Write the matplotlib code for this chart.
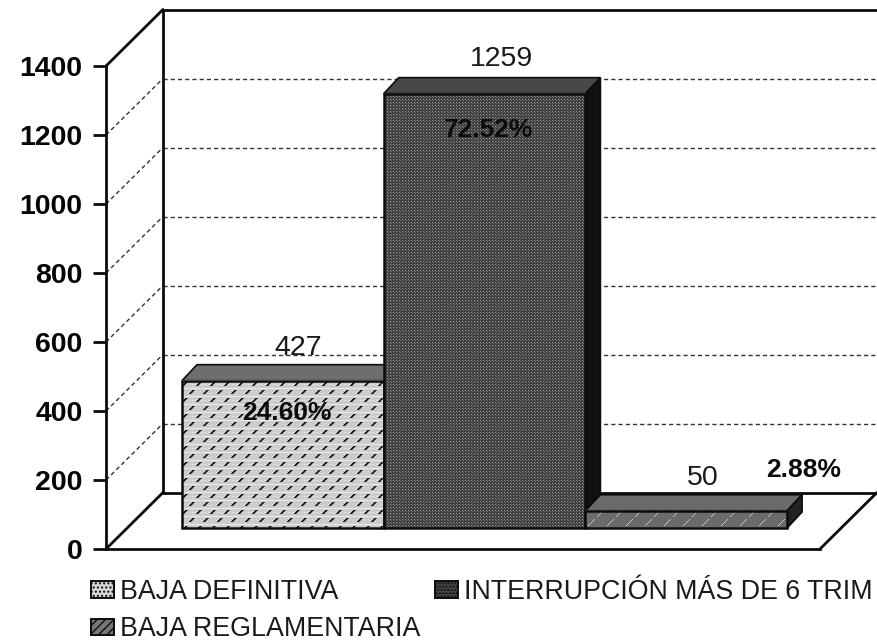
import numpy as np
import matplotlib
matplotlib.use("Agg")
import matplotlib.pyplot as plt
from matplotlib.patches import Patch, Polygon

categories = ["BAJA DEFINITIVA", "INTERRUPCIÓN MÁS DE 6 TRIM", "BAJA REGLAMENTARIA"]
values = [427, 1259, 50]
percents = ["24.60%", "72.52%", "2.88%"]
yticks = [0, 200, 400, 600, 800, 1000, 1200, 1400]

plt.rcParams['font.family'] = ['Liberation Sans', 'DejaVu Sans']
W, H = 878, 642
fig = plt.figure(figsize=(W / 100, H / 100), dpi=100, facecolor='white')
ax = fig.add_axes([106 / W, (H - 549) / H, 714 / W, 483 / H])

BAR_PX = 201.7
PX_V = 1400 / 483
def ux(px): return px / BAR_PX
def uv(px): return px * PX_V

x_left, x_right = ux(106 - 161), ux(820 - 161)
wall_dx, wall_dv = ux(57), uv(56.5)
floor_dx, floor_dv = ux(21), uv(21)
depth_dx, depth_dv = ux(15), uv(16)
LINE = '#0c0c0c'
LW = 2.0

# back wall, left wall, floor outlines
outline = dict(color=LINE, lw=LW, zorder=2, clip_on=False, solid_capstyle='round')
ax.plot([x_left + wall_dx] * 2, [wall_dv, 1400 + wall_dv], **outline)
ax.plot([x_left, x_left + wall_dx], [1400, 1400 + wall_dv], **outline)
ax.plot([x_left, x_left + wall_dx], [0, wall_dv], **outline)
ax.plot([x_left + wall_dx, x_right + wall_dx], [1400 + wall_dv] * 2, **outline)
ax.plot([x_left + wall_dx, x_right + wall_dx], [wall_dv] * 2, **outline)
ax.plot([x_right, x_right + wall_dx], [0, wall_dv], **outline)
for t in yticks[1:-1]:
    ax.plot([x_left, x_left + wall_dx], [t, t + wall_dv], color='#333333', lw=1.0,
            dashes=(3, 2.2), zorder=1, clip_on=False)
    ax.plot([x_left + wall_dx, x_right + wall_dx], [t + wall_dv] * 2, color='#333333', lw=1.0,
            dashes=(3, 2.2), zorder=1, clip_on=False)


def tex_speckle(w, h):
    a = np.full((h, w), 0.80)
    a[::8, :] = 0.92
    a[4::16, ::2] = 0.90
    for idx, yy in enumerate(range(0, h, 8)):
        shift = 7 if idx % 2 else 0
        for xx in range(shift, w, 14):
            for k in range(4):
                r, c = yy + 2 + k, xx + (3 - k)
                for off, val in ((0, 0.12), (1, 0.12), (2, 0.40)):
                    if r < h and c + off < w:
                        a[r, c + off] = val
    return a


def tex_dots(w, h):
    a = np.full((h, w), 0.25)
    a[::3, ::3] = 0.60
    a[1::3, 1::3] = 0.45
    return a


def tex_slash(w, h):
    a = np.full((h, w), 0.42)
    for xx in range(0, w, 19):
        for r in range(h):
            c = xx + (h - r)
            if c < w and (r % 9) < 7:
                a[r, c] = 0.78
    return a


front_tex = [tex_speckle, tex_dots, tex_slash]
top_col = ['#6e6e6e', '#484848', '#6a6a6a']
side_col = ['#333333', '#101010', '#222222']

for i, v in enumerate(values):
    x0 = i + floor_dx
    x1 = x0 + 1
    y0 = floor_dv
    y1 = floor_dv + v
    bar = ax.bar(x0, v, width=1, bottom=y0, align='edge', facecolor='none',
                 edgecolor=LINE, lw=LW * 0.9, zorder=5 + i * 3 + 2)[0]
    w_px, h_px = int(BAR_PX) + 1, max(int(v / PX_V) + 1, 2)
    im = ax.imshow(front_tex[i](w_px, h_px), cmap='gray', vmin=0, vmax=1,
                   extent=[x0, x1, y0, y1], aspect='auto', interpolation='bilinear',
                   zorder=5 + i * 3 + 1)
    ax.add_patch(Polygon([[x0, y1], [x1, y1], [x1 + depth_dx, y1 + depth_dv], [x0 + depth_dx, y1 + depth_dv]],
                         closed=True, facecolor=top_col[i], edgecolor=LINE, lw=1.2, zorder=5 + i * 3))
    ax.add_patch(Polygon([[x1, y0], [x1 + depth_dx, y0 + depth_dv], [x1 + depth_dx, y1 + depth_dv], [x1, y1]],
                         closed=True, facecolor=side_col[i], edgecolor=LINE, lw=1.2, zorder=5 + i * 3))

ax.set_xlim(x_left, x_right)
ax.set_ylim(0, 1400)
ax.patch.set_visible(False)
for s in ('top', 'right'):
    ax.spines[s].set_visible(False)
for s in ('left', 'bottom'):
    ax.spines[s].set_linewidth(LW)
    ax.spines[s].set_color(LINE)
ax.spines['left'].set_zorder(3)
ax.set_xticks([])
ax.set_yticks(yticks)
ax.tick_params(axis='y', length=9.5, width=LW, color=LINE, pad=7.5)
for lab in ax.get_yticklabels():
    lab.set_fontsize(20.5)
    lab.set_fontweight('bold')
    lab.set_color('#050505')

# label offsets relative to the bar's front top-centre, in pixels
val_off = [(15, 33), (16.5, 35), (16.5, 33)]
pct_off = [(4, -32), (4, -36), (117, 41)]
for i, v in enumerate(values):
    cx = i + floor_dx + 0.5
    top = floor_dv + v
    ax.text(cx + ux(val_off[i][0]), top + uv(val_off[i][1]), str(v),
            ha='center', va='center', fontsize=20.5, color='#1a1a1a', zorder=40)
    ax.text(cx + ux(pct_off[i][0]), top + uv(pct_off[i][1]), percents[i],
            ha='center', va='center', fontsize=19, fontweight='bold', color='#0c0c0c', zorder=41)

handles = [Patch(facecolor='#d8d8d8', edgecolor=LINE, hatch='....', lw=1.4),
           Patch(facecolor='#777777', edgecolor=LINE, hatch='////', lw=1.4),
           Patch(facecolor='#444444', edgecolor=LINE, hatch='.....', lw=1.4)]
labels = [categories[0], categories[2], categories[1]]
fig.legend(handles, labels, ncol=2, loc='upper left', bbox_to_anchor=(91 / W, 1 - 579 / H),
           frameon=False, fontsize=19.3, handlelength=0.86, handleheight=0.55, handletextpad=0.22,
           columnspacing=0.56, labelspacing=0.42, borderpad=0, borderaxespad=0,
           labelcolor='#1a1a1a')

fig.savefig('out.png', dpi=100, facecolor='white')
